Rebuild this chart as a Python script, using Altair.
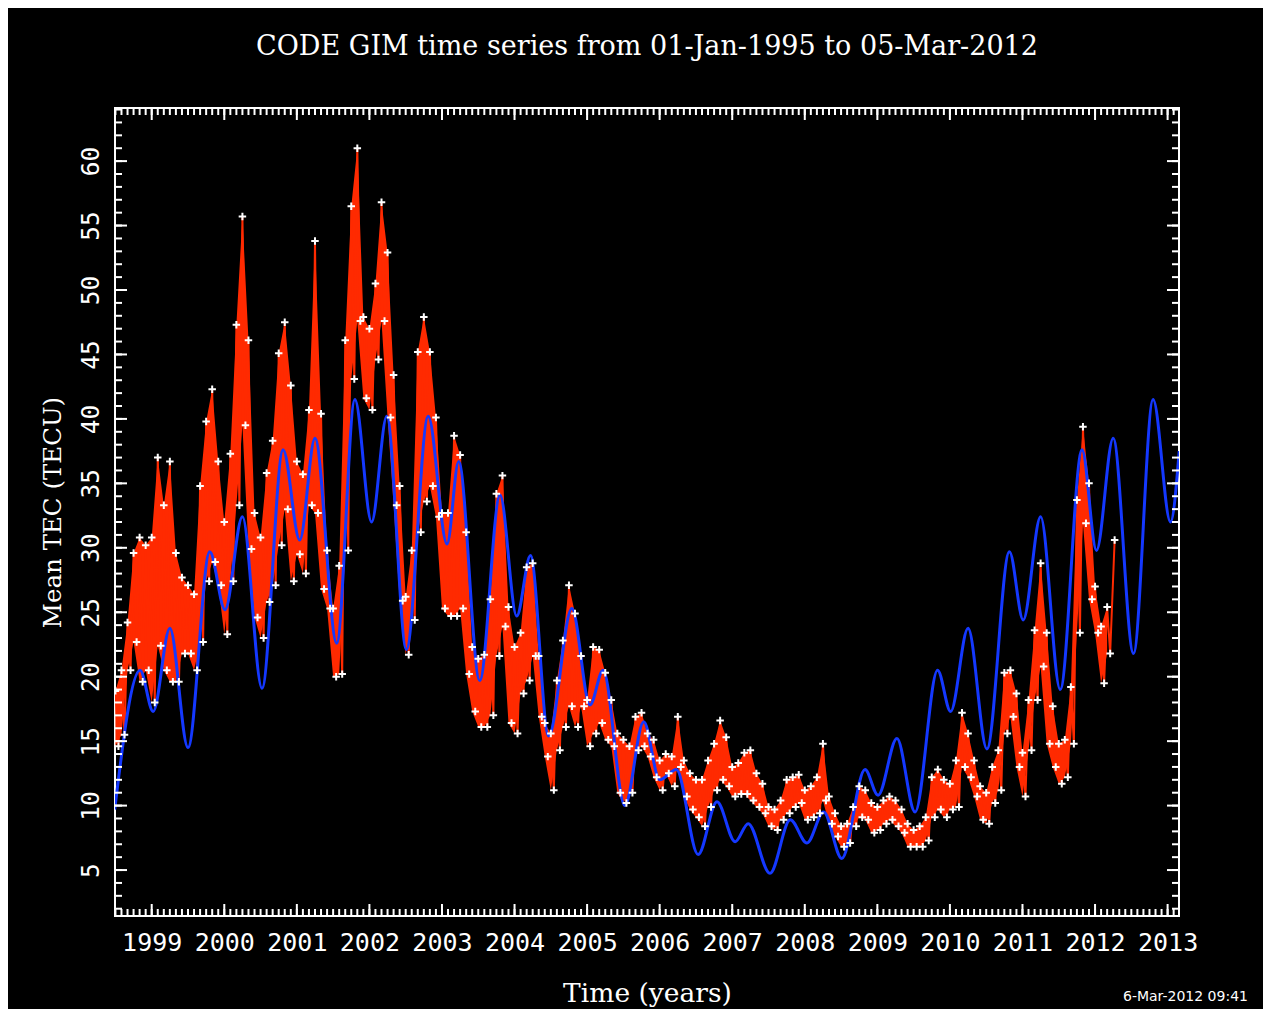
import altair as alt
import pandas as pd

TITLE = "CODE GIM time series from 01-Jan-1995 to 05-Mar-2012"
X_TITLE = "Time (years)"
Y_TITLE = "Mean TEC (TECU)"
STAMP = "6-Mar-2012 09:41"

# Observed mean TEC: monthly upper / lower envelope of the daily values, starting 1998.5
DATA_START = 1998.5
tec_hi = [18.9, 20.5, 24.2, 29.6, 30.8, 30.2, 30.8, 37.0, 33.3, 36.7, 29.6, 27.7, 27.1, 26.4, 34.8, 39.8,
          42.3, 36.7, 32.0, 37.3, 47.3, 55.7, 46.1, 32.7, 30.8, 35.8, 38.3, 45.1, 47.5, 42.6, 36.7,
          35.7, 40.7, 53.8, 40.4, 29.8, 25.3, 28.6, 46.1, 56.5, 61.0, 47.9, 47.0, 50.5, 56.8, 52.9,
          43.4, 34.8, 26.2, 29.8, 45.2, 47.9, 45.2, 40.1, 32.7, 32.7, 38.7, 37.2, 31.2, 22.3, 21.4, 21.7,
          26.0, 34.2, 35.6, 25.4, 22.3, 23.4, 28.5, 28.8, 21.6, 16.4, 15.6, 19.7, 22.8, 27.1, 24.9,
          21.6, 18.2, 22.3, 22.1, 20.3, 18.2, 15.6, 15.1, 14.6, 16.9, 17.2, 15.6, 15.1, 13.5, 14.0,
          13.8, 16.9, 13.5, 12.5, 12.0,
          12.0, 13.5, 14.8, 16.6, 15.3, 13.0, 13.3, 14.1, 14.3, 12.5, 11.7, 9.9, 9.7, 10.4, 12.0,
          12.2, 12.4, 11.2, 11.5, 12.2, 14.8, 10.7, 9.4, 8.4, 8.6, 9.9, 11.5, 11.2, 10.2, 9.9, 10.4,
          10.7, 10.4, 9.7,
          8.6, 8.1, 8.4, 9.1, 12.2, 12.8, 12.0, 11.7, 13.5, 17.2, 15.6, 13.5, 11.5, 11.0, 13.0, 14.3,
          20.3, 20.5, 18.7, 14.1, 18.2, 23.6, 28.8, 23.4, 17.7, 14.8, 15.1, 19.2, 33.7, 39.4, 35.0,
          27.0, 23.9, 25.4]
tec_lo = [14.6, 15.5, 20.5, 22.7, 19.6, 20.5, 18.0, 22.4, 20.5, 19.6, 19.6, 21.8, 21.8, 20.5, 22.7, 27.4,
          28.9, 27.1, 23.3, 27.4, 33.3, 39.5, 29.9, 24.6, 23.0, 25.8, 27.1, 30.2, 33.0, 27.4, 29.5,
          28.0, 33.3, 32.7, 26.8, 25.3, 20.0, 20.2, 29.8, 43.1, 47.6, 41.6, 40.7, 44.6, 47.6, 40.1,
          33.3, 25.9, 21.7, 24.4, 31.2, 33.6, 34.8, 32.4, 25.3, 24.7, 24.7, 25.3, 20.2, 17.3, 16.1, 16.1,
          17.0, 21.6, 23.9, 16.4, 15.6, 18.7, 19.7, 21.6, 16.9, 13.8, 11.2, 14.3, 16.1, 17.7, 16.1,
          17.7, 14.6, 15.6, 16.4, 15.1, 14.6, 11.0, 10.2, 11.0, 14.3, 14.6, 13.8, 12.2, 11.2, 12.5,
          11.5, 13.0, 10.7, 9.7, 9.1,
          8.4, 9.9, 11.2, 12.0, 11.5, 10.7, 10.9, 10.9, 10.4, 9.9, 9.4, 8.4, 8.1, 8.9, 9.4,
          9.9, 10.2, 8.9, 9.1, 9.4, 10.4, 8.6, 7.6, 6.8, 7.1, 8.4, 9.1, 8.9, 7.9, 8.1, 8.6,
          8.9, 8.4, 7.9,
          6.8, 6.8, 6.8, 7.3, 9.1, 9.7, 9.1, 9.7, 9.9, 13.0, 12.2, 10.7, 8.9, 8.6, 10.2, 11.2,
          15.6, 16.9, 13.0, 10.7, 14.3, 18.2, 20.8, 14.8, 13.0, 11.7, 12.2, 14.8, 23.4, 31.9, 26.0,
          23.4, 19.5, 21.8]
tec_last_t = 2012.27
tec_last_v = 30.6

# Model curve (blue): turning points
model_t = [1998.49, 1998.84, 1999.02, 1999.25, 1999.50, 1999.80, 2000.01, 2000.25, 2000.52, 2000.81,
           2001.04, 2001.25, 2001.55, 2001.80, 2002.03, 2002.24, 2002.51, 2002.81, 2003.07, 2003.23,
           2003.52, 2003.80, 2004.03, 2004.22, 2004.47, 2004.79, 2005.04, 2005.22, 2005.52, 2005.78,
           2006.00, 2006.23, 2006.53, 2006.79, 2007.04, 2007.22, 2007.52, 2007.80, 2008.03, 2008.26,
           2008.51, 2008.83, 2009.01, 2009.27, 2009.52, 2009.83, 2010.01, 2010.25, 2010.51, 2010.82,
           2011.01, 2011.25, 2011.52, 2011.82, 2012.02, 2012.25, 2012.53, 2012.80, 2013.04, 2013.16]
model_v = [9.7, 20.5, 17.3, 23.75, 14.5, 29.7, 25.2, 32.4, 19.1, 37.6,
           30.6, 38.5, 22.6, 41.5, 32.0, 40.2, 22.1, 40.2, 30.3, 36.7,
           19.7, 34.1, 24.7, 29.4, 15.4, 25.3, 17.8, 20.5, 10.0, 16.5,
           12.0, 12.8, 6.2, 10.3, 7.2, 8.6, 4.75, 8.9, 7.1, 9.5,
           5.9, 12.8, 10.8, 15.2, 9.5, 20.5, 17.3, 23.75, 14.4, 29.7,
           24.4, 32.4, 19.0, 37.6, 29.8, 38.5, 21.8, 41.5, 32.0, 37.5]

year_labels = list(range(1999, 2014))
y_labels = list(range(5, 61, 5))
y_minor = list(range(2, 65))
x_minor = [1998 + m / 12 for m in range(6, 182)]

W, H = 1064, 808
RED = "#ff2a00"
BLUE = "#1438ff"

rows = []
for k, (h, l) in enumerate(zip(tec_hi, tec_lo)):
    t = DATA_START + k / 12
    rows.append({"t": t, "v": h})
    rows.append({"t": t + 1 / 24, "v": l})
rows.append({"t": tec_last_t, "v": tec_last_v})
obs = pd.DataFrame(rows)
band = pd.DataFrame({"t": [DATA_START + k / 12 for k in range(len(tec_hi))],
                     "v": tec_hi, "lo": tec_lo})
model = pd.DataFrame({"t": model_t, "v": model_v})

xs = alt.Scale(domain=[1998.494, 2013.157], nice=False, zero=False)
ys = alt.Scale(domain=[1.435, 64.12], nice=False, zero=False)

SERIF = "DejaVu Serif"
x_axis = alt.Axis(values=year_labels, format="d", grid=False, ticks=False, tickSize=0, domain=False,
                  labelFont="DejaVu Sans Mono", labelFontSize=25, labelColor="white",
                  labelBaseline="alphabetic", labelPadding=34, labelFlush=False, labelOverlap=False,
                  titleFont=SERIF, titleFontSize=26.5, titleFontWeight="normal",
                  titleColor="white", titleX=W / 2, titleY=85, titleBaseline="alphabetic",
                  titleAlign="center")
y_axis = alt.Axis(values=y_labels, grid=False, ticks=False, tickSize=0, domain=False,
                  labelFont="DejaVu Sans Mono", labelFontSize=24.5, labelColor="white",
                  labelAngle=270, labelAlign="center", labelBaseline="alphabetic",
                  labelPadding=17, labelFlush=False, labelOverlap=False,
                  titleFont=SERIF, titleFontSize=24.5, titleFontWeight="normal",
                  titleColor="white", titleAngle=270, titleX=-55, titleY=H / 2,
                  titleBaseline="alphabetic", titleAlign="center")

x_enc = alt.X("t:Q", scale=xs, axis=x_axis, title=X_TITLE)
y_enc = alt.Y("v:Q", scale=ys, axis=y_axis, title=Y_TITLE)

area = alt.Chart(band).mark_area(color=RED, opacity=1, clip=True).encode(x=x_enc, y=y_enc, y2="lo:Q")
red = alt.Chart(obs).mark_line(color=RED, strokeWidth=2, clip=True).encode(x=x_enc, y=y_enc)
blue = alt.Chart(model).mark_line(color=BLUE, strokeWidth=3, interpolate="monotone",
                                  clip=True).encode(x=x_enc, y=y_enc)
white = alt.Chart(obs).mark_point(shape="M-1,0H1M0,-1V1", filled=False, stroke="white",
                                  strokeWidth=2, size=56, opacity=1, clip=True).encode(x=x_enc, y=y_enc)

xmaj = pd.DataFrame({"t": year_labels})
xmin = pd.DataFrame({"t": x_minor})
ymaj = pd.DataFrame({"v": y_labels})
ymin = pd.DataFrame({"v": y_minor})

def xticks(df, length):
    b = alt.Chart(df).mark_rule(color="white", strokeWidth=2)
    return (b.encode(x=x_enc, y=alt.value(H), y2=alt.value(H - length)) +
            b.encode(x=x_enc, y=alt.value(0), y2=alt.value(length)))

def yticks(df, length):
    b = alt.Chart(df).mark_rule(color="white", strokeWidth=2)
    return (b.encode(y=y_enc, x=alt.value(0), x2=alt.value(length)) +
            b.encode(y=y_enc, x=alt.value(W), x2=alt.value(W - length)))

stamp = alt.Chart(pd.DataFrame({"s": [STAMP]})).mark_text(
    font="DejaVu Sans", fontSize=14, color="white", align="left", baseline="alphabetic"
).encode(x=alt.value(1008), y=alt.value(893), text="s:N")

chart = alt.layer(
    area, red, blue, white,
    xticks(xmin, 7), xticks(xmaj, 12), yticks(ymin, 7), yticks(ymaj, 12),
    stamp,
).properties(
    width=W, height=H,
    title=alt.Title(TITLE, font=SERIF, fontSize=27, fontWeight="normal", color="white",
                    anchor="middle", frame="group", offset=25, baseline="alphabetic"),
    autosize=alt.AutoSizeParams(type="none"),
    padding={"left": 107, "top": 100, "right": 84, "bottom": 93},
    background="black",
).configure_view(stroke="white", strokeWidth=2)

chart.save("out.html", embed_options={"renderer": "svg", "actions": False})
